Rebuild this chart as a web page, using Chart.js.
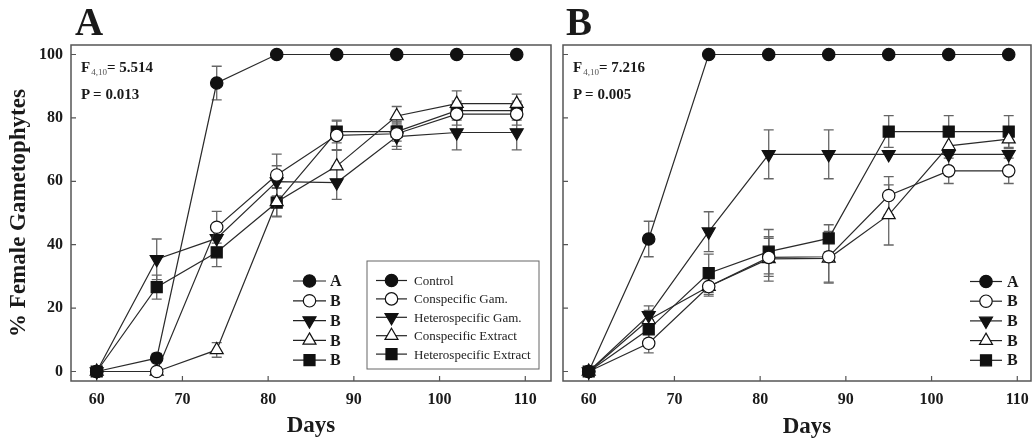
<!DOCTYPE html>
<html>
<head>
<meta charset="utf-8">
<script src="https://cdn.jsdelivr.net/npm/chart.js@4/dist/chart.umd.min.js"></script>
<style>
body { margin: 0; background: #fff; width: 1032px; height: 440px; overflow: hidden; position: relative; font-family: 'Liberation Serif', 'DejaVu Serif', serif; color: #1a1a1a; }
.panel { position: absolute; top: 0; height: 440px; }
#wrapA { left: 0; width: 556px; }
#wrapB { left: 556px; width: 476px; }
.letter { position: absolute; font-weight: bold; font-size: 39px; line-height: 39px; top: 2px; }
.stats { position: absolute; font-weight: bold; font-size: 15px; line-height: 22px; top: 56px; }
.stats sub { font-size: 9px; font-weight: normal; color: #555; vertical-align: -3px; margin-left: 1px; }
.xtitle { position: absolute; font-weight: bold; font-size: 23px; line-height: 23px; top: 414px; width: 100px; text-align: center; }
</style>
</head>
<body>
<div class="panel" id="wrapA"><canvas id="chartA"></canvas></div>
<div class="panel" id="wrapB"><canvas id="chartB"></canvas></div>
<div class="letter" style="left:75px">A</div>
<div class="letter" style="left:566px">B</div>
<div class="stats" style="left:81px">F<sub>4,10</sub>= 5.514<br>P = 0.013</div>
<div class="stats" style="left:573px">F<sub>4,10</sub>= 7.216<br>P = 0.005</div>
<div class="xtitle" style="left:757px">Days</div>
<script>
const days = [60, 67, 74, 81, 88, 95, 102, 109];
const xTicks = [60, 70, 80, 90, 100, 110];
const yTicks = [0, 20, 40, 60, 80, 100];
const seriesNames = ['Control', 'Conspecific Gam.', 'Heterospecific Gam.', 'Conspecific Extract', 'Heterospecific Extract'];
const lettersA = ['A', 'B', 'B', 'B', 'B'];
const lettersB = ['A', 'B', 'B', 'B', 'B'];

// panel A
const controlA    = [0, 4.2, 91, 100, 100, 100, 100, 100];
const controlAErr = [0, 1.5, 5.3, 0, 0, 0, 0, 0];
const conGamA     = [0, 0, 45.5, 62.0, 74.5, 75.0, 81.2, 81.2];
const conGamAErr  = [0, 0, 5, 6.6, 4.5, 4, 3.5, 3.5];
const hetGamA     = [0, 35.4, 42.0, 59.9, 59.6, 74.1, 75.4, 75.4];
const hetGamAErr  = [0, 6.4, 4, 5, 5.3, 4, 5.5, 5.5];
const conExtA     = [0, 0, 6.8, 53.5, 64.8, 80.6, 84.5, 84.5];
const conExtAErr  = [0, 0, 2.3, 4.5, 5, 3, 4, 3];
const hetExtA     = [0, 26.6, 37.6, 53.3, 75.7, 75.7, 82.3, 82.3];
const hetExtAErr  = [0, 3.8, 4.5, 4.5, 3.6, 3, 3, 3];

// panel B
const controlB    = [0, 41.8, 100, 100, 100, 100, 100, 100];
const controlBErr = [0, 5.6, 0, 0, 0, 0, 0, 0];
const conGamB     = [0, 8.9, 26.8, 36.0, 36.2, 55.5, 63.3, 63.3];
const conGamBErr  = [0, 3, 2.5, 6, 8, 6, 4, 4];
const hetGamB     = [0, 17.7, 44.1, 68.5, 68.5, 68.5, 68.5, 68.5];
const hetGamBErr  = [0, 3, 6.3, 7.7, 7.7, 0, 0, 0];
const conExtB     = [0, 16.3, 26.8, 35.5, 35.7, 49.4, 71.2, 73.3];
const conExtBErr  = [0, 3, 3, 7, 7.8, 9.5, 3, 3];
const hetExtB     = [0, 13.3, 31.0, 37.8, 42.0, 75.7, 75.7, 75.7];
const hetExtBErr  = [0, 3, 6, 7, 4.3, 5, 5, 5];

const markers = [
  { style: 'circle', rot: 0, r: 6.2, fill: '#111' },
  { style: 'circle', rot: 0, r: 6.2, fill: '#fff' },
  { style: 'triangle', rot: 180, r: 7.5, fill: '#111' },
  { style: 'triangle', rot: 0, r: 7.5, fill: '#fff' },
  { style: 'rect', rot: 0, r: 7.8, fill: '#111' }
];
const serif = "'Liberation Serif', 'DejaVu Serif', serif";

function drawMarker(ctx, m, x, y) {
  ctx.save();
  ctx.fillStyle = m.fill;
  ctx.strokeStyle = '#111';
  ctx.lineWidth = 1.2;
  ctx.beginPath();
  if (m.style === 'circle') {
    ctx.arc(x, y, m.r, 0, Math.PI * 2);
  } else if (m.style === 'rect') {
    const s = m.r / Math.SQRT2;
    ctx.rect(x - s, y - s, 2 * s, 2 * s);
  } else {
    let a = m.rot * Math.PI / 180;
    ctx.moveTo(x + Math.sin(a) * m.r, y - Math.cos(a) * m.r);
    for (let k = 0; k < 2; k++) {
      a += 2 * Math.PI / 3;
      ctx.lineTo(x + Math.sin(a) * m.r, y - Math.cos(a) * m.r);
    }
    ctx.closePath();
  }
  ctx.fill();
  ctx.stroke();
  ctx.restore();
}

// frame with inward ticks + error bars + legends
const framePlugin = {
  id: 'frame',
  beforeDatasetsDraw(chart) {
    const ctx = chart.ctx, a = chart.chartArea;
    const xs = chart.scales.x, ys = chart.scales.y;
    ctx.save();
    ctx.strokeStyle = '#555';
    ctx.lineWidth = 1.5;
    ctx.strokeRect(a.left, a.top, a.right - a.left, a.bottom - a.top);
    ctx.lineWidth = 1.2;
    ctx.beginPath();
    xs.ticks.forEach(t => {
      const px = xs.getPixelForValue(t.value);
      ctx.moveTo(px, a.bottom); ctx.lineTo(px, a.bottom - 5);
    });
    ys.ticks.forEach(t => {
      const py = ys.getPixelForValue(t.value);
      ctx.moveTo(a.left, py); ctx.lineTo(a.left + 5, py);
    });
    ctx.stroke();

    // error bars
    ctx.strokeStyle = '#666';
    ctx.lineWidth = 1.3;
    chart.data.datasets.forEach((ds, i) => {
      const meta = chart.getDatasetMeta(i);
      ds.errors.forEach((e, j) => {
        if (!e) return;
        const px = meta.data[j].x;
        const v = ds.data[j].y;
        const top = ys.getPixelForValue(v + e), bot = ys.getPixelForValue(v - e);
        ctx.beginPath();
        ctx.moveTo(px, top); ctx.lineTo(px, bot);
        ctx.moveTo(px - 5, top); ctx.lineTo(px + 5, top);
        ctx.moveTo(px - 5, bot); ctx.lineTo(px + 5, bot);
        ctx.stroke();
      });
    });
    ctx.restore();
  },
  afterDatasetsDraw(chart, args, opts) {
    const ctx = chart.ctx;
    ctx.save();
    ctx.textBaseline = 'middle';
    const lg = opts.letters;
    if (lg) {
      lg.labels.forEach((lab, i) => {
        const y = lg.y0 + i * lg.dy;
        ctx.strokeStyle = '#222'; ctx.lineWidth = 1.2;
        ctx.beginPath(); ctx.moveTo(lg.x0, y); ctx.lineTo(lg.x1, y); ctx.stroke();
        drawMarker(ctx, markers[i], (lg.x0 + lg.x1) / 2, y);
        ctx.fillStyle = '#1a1a1a';
        ctx.font = 'bold 16px ' + serif;
        ctx.fillText(lab, lg.tx, y + 1);
      });
    }
    const bx = opts.box;
    if (bx) {
      ctx.strokeStyle = '#666'; ctx.lineWidth = 1;
      ctx.strokeRect(bx.left, bx.top, bx.w, bx.h);
      seriesNames.forEach((name, i) => {
        const y = bx.y0 + i * bx.dy;
        ctx.strokeStyle = '#222'; ctx.lineWidth = 1.2;
        ctx.beginPath(); ctx.moveTo(bx.x0, y); ctx.lineTo(bx.x1, y); ctx.stroke();
        drawMarker(ctx, markers[i], (bx.x0 + bx.x1) / 2, y);
        ctx.fillStyle = '#222';
        ctx.font = '13px ' + serif;
        ctx.fillText(name, bx.tx, y + 1);
      });
    }
    ctx.restore();
  }
};

function makeChart(id, values, errs, xMax, padRight, yLabels, legendOpts) {
  const datasets = seriesNames.map((name, i) => ({
    label: name,
    data: days.map((d, j) => ({ x: d, y: values[i][j] })),
    errors: errs[i],
    borderColor: '#2a2a2a',
    borderWidth: 1.2,
    pointStyle: markers[i].style,
    pointRotation: markers[i].rot,
    pointRadius: markers[i].r,
    pointHoverRadius: markers[i].r,
    pointBackgroundColor: markers[i].fill,
    pointBorderColor: '#111',
    pointBorderWidth: 1.2,
    tension: 0,
    fill: false
  }));
  return new Chart(document.getElementById(id), {
    type: 'line',
    data: { datasets: datasets },
    options: {
      responsive: true,
      maintainAspectRatio: false,
      animation: false,
      layout: { autoPadding: false, padding: { top: 45, right: padRight, left: 0, bottom: 0 } },
      plugins: { legend: { display: false }, tooltip: { enabled: false }, frame: legendOpts },
      scales: {
        x: {
          type: 'linear', min: 57, max: xMax,
          afterBuildTicks: s => { s.ticks = xTicks.map(v => ({ value: v })); },
          afterFit: s => { s.height = 59; s.paddingLeft = 0; s.paddingRight = 0; },
          grid: { display: false, drawTicks: false },
          border: { display: false },
          ticks: { color: '#1a1a1a', padding: 9, font: { family: serif, size: 16, weight: 'bold' } },
          // panel B's axis title is placed as a page element (off-centre in the original)
          title: { display: yLabels, text: 'Days', color: '#1a1a1a', padding: { top: 0, bottom: 0 }, font: { family: serif, size: 23, weight: 'bold' } }
        },
        y: {
          type: 'linear', min: -3, max: 103,
          afterBuildTicks: s => { s.ticks = yTicks.map(v => ({ value: v })); },
          afterFit: s => { s.width = yLabels ? 71 : 7; s.paddingTop = 0; s.paddingBottom = 0; },
          grid: { display: false, drawTicks: false },
          border: { display: false },
          ticks: { display: yLabels, color: '#1a1a1a', padding: 8, font: { family: serif, size: 16, weight: 'bold' } },
          title: { display: yLabels, text: '% Female Gametophytes', color: '#1a1a1a', padding: { top: 5, bottom: 0 }, font: { family: serif, size: 23, weight: 'bold' } }
        }
      }
    },
    plugins: [framePlugin]
  });
}

makeChart('chartA',
  [controlA, conGamA, hetGamA, conExtA, hetExtA],
  [controlAErr, conGamAErr, hetGamAErr, conExtAErr, hetExtAErr],
  113, 5, true,
  {
    letters: { labels: lettersA, x0: 293, x1: 326, tx: 330, y0: 281, dy: 19.8 },
    box: { left: 367, top: 261, w: 172, h: 108, x0: 376, x1: 407, tx: 414, y0: 280.5, dy: 18.4 }
  });

makeChart('chartB',
  [controlB, conGamB, hetGamB, conExtB, hetExtB],
  [controlBErr, conGamBErr, hetGamBErr, conExtBErr, hetExtBErr],
  111.6, 1, false,
  {
    letters: { labels: lettersB, x0: 970 - 556, x1: 1002 - 556, tx: 1007 - 556, y0: 281.5, dy: 19.7 }
  });
</script>
</body>
</html>
